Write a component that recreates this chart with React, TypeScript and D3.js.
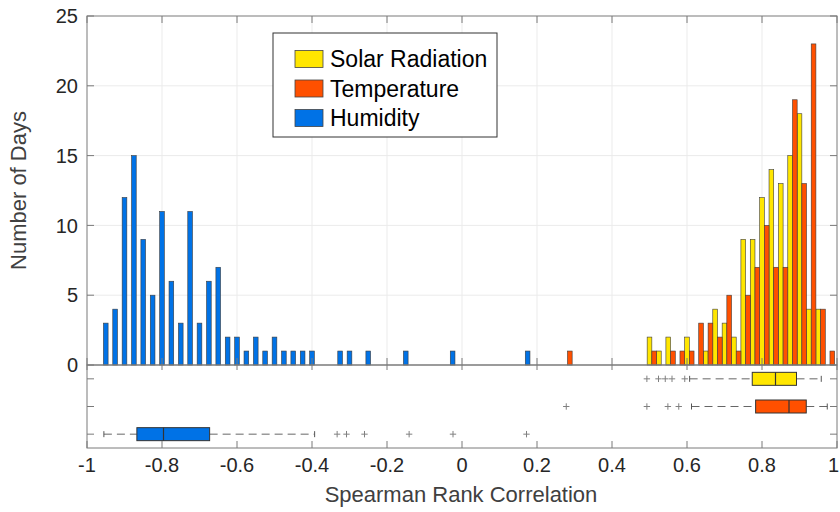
import { useRef, useEffect } from "react";
import * as d3 from "d3";

// histogram bins (bar centres) and counts
const humidityBins = [
  -0.95, -0.925, -0.9, -0.875, -0.85, -0.825, -0.8, -0.775, -0.75, -0.725, -0.7, -0.675,
  -0.65, -0.625, -0.6, -0.575, -0.55, -0.525, -0.5, -0.475, -0.45, -0.425, -0.4,
  -0.325, -0.3, -0.25, -0.15, -0.025, 0.175,
];
const humidityCounts = [
  3, 4, 12, 15, 9, 5, 11, 6, 3, 11, 3, 6, 7, 2, 2, 1, 2, 1, 2, 1, 1, 1, 1,
  1, 1, 1, 1, 1, 1,
];

const solarBins = [0.5, 0.525, 0.55, 0.6, 0.65, 0.675, 0.7, 0.725, 0.75, 0.775, 0.8, 0.825, 0.85, 0.875, 0.9, 0.925, 0.95];
const solarCounts = [2, 1, 2, 2, 1, 4, 3, 2, 9, 9, 12, 14, 13, 15, 18, 4, 4];

const tempBins = [
  0.2875, 0.5125, 0.5625, 0.5875, 0.6125, 0.6375, 0.6625, 0.6875, 0.7125, 0.7375,
  0.7625, 0.7875, 0.8125, 0.8375, 0.8625, 0.8875, 0.9125, 0.9375, 0.9625, 0.9875,
];
const tempCounts = [1, 1, 1, 1, 1, 3, 3, 2, 5, 1, 5, 7, 10, 7, 7, 19, 13, 23, 4, 1];

// box plot summaries: [lower whisker, q1, median, q3, upper whisker]
const boxNames = ["Solar Radiation", "Temperature", "Humidity"];
const boxStats = [
  [0.607, 0.774, 0.836, 0.892, 0.958],
  [0.612, 0.783, 0.872, 0.918, 0.974],
  [-0.955, -0.867, -0.796, -0.673, -0.393],
];
const boxOutliers = [
  [0.493, 0.524, 0.542, 0.56, 0.594],
  [0.278, 0.493, 0.549, 0.578],
  [-0.333, -0.308, -0.26, -0.141, -0.024, 0.172],
];

const colors = ["#ffe600", "#ff5000", "#0072e6"];
const xTicks = [-1, -0.8, -0.6, -0.4, -0.2, 0, 0.2, 0.4, 0.6, 0.8, 1];
const yTicks = [0, 5, 10, 15, 20, 25];

const W = 840;
const H = 512;
const X0 = 87;
const X1 = 837;
const HIST_TOP = 16;
const HIST_BOT = 365;
const BOX_BOT = 448;
const TICK = 7;
const FONT = "'Liberation Sans', Arial, Helvetica, sans-serif";
const TXT = "#262626";
const AX = "#7a7a7a";

export default function App() {
  const svgRef = useRef<SVGSVGElement>(null);

  useEffect(() => {
    document.body.style.margin = "0";
    if (!svgRef.current) return;
    const svg = d3.select(svgRef.current);
    svg.selectAll("*").remove();

    const x = d3.scaleLinear().domain([-1, 1]).range([X0, X1]);
    const y = d3.scaleLinear().domain([0, 25]).range([HIST_BOT, HIST_TOP]);
    const yb = d3.scaleLinear().domain([0.5, 3.5]).range([HIST_BOT, BOX_BOT]);
    const bw = x(0.0125) - x(0);

    svg.append("rect").attr("width", W).attr("height", H).attr("fill", "#fff");

    // grid
    const grid = svg.append("g").attr("stroke", "#ebebeb").attr("stroke-width", 1);
    grid.selectAll(".gx").data(xTicks.slice(1, -1)).join("line")
      .attr("x1", d => x(d)).attr("x2", d => x(d))
      .attr("y1", HIST_TOP).attr("y2", HIST_BOT);
    grid.selectAll(".gy").data(yTicks.slice(1, -1)).join("line")
      .attr("x1", X0).attr("x2", X1)
      .attr("y1", d => y(d)).attr("y2", d => y(d));

    // histogram bars
    const series = [
      { bins: humidityBins, counts: humidityCounts, color: colors[2] },
      { bins: solarBins, counts: solarCounts, color: colors[0] },
      { bins: tempBins, counts: tempCounts, color: colors[1] },
    ];
    series.forEach(s => {
      svg.append("g").selectAll("rect")
        .data(s.bins.map((b, i) => ({ b, c: s.counts[i] })))
        .join("rect")
        .attr("x", d => x(d.b) - bw / 2)
        .attr("width", bw)
        .attr("y", d => y(d.c))
        .attr("height", d => y(0) - y(d.c))
        .attr("fill", s.color)
        .attr("stroke", "#3c3c3c")
        .attr("stroke-width", 0.6);
    });

    // box plots
    const bp = svg.append("g");
    boxStats.forEach((st, i) => {
      const cy = yb(i + 1);
      const [lo, q1, med, q3, hi] = st;
      const g = bp.append("g");
      g.selectAll(".wh").data([[lo, q1], [q3, hi]]).join("line")
        .attr("x1", d => x(d[0])).attr("x2", d => x(d[1]))
        .attr("y1", cy).attr("y2", cy)
        .attr("stroke", "#666").attr("stroke-width", 1)
        .attr("stroke-dasharray", "8,5");
      g.selectAll(".cap").data([lo, hi]).join("line")
        .attr("x1", d => x(d)).attr("x2", d => x(d))
        .attr("y1", cy - 3).attr("y2", cy + 3)
        .attr("stroke", "#555").attr("stroke-width", 1);
      g.append("rect")
        .attr("x", x(q1)).attr("width", x(q3) - x(q1))
        .attr("y", cy - 6.5).attr("height", 13)
        .attr("fill", colors[i]).attr("stroke", "#333").attr("stroke-width", 1);
      g.append("line")
        .attr("x1", x(med)).attr("x2", x(med))
        .attr("y1", cy - 6.5).attr("y2", cy + 6.5)
        .attr("stroke", "#333").attr("stroke-width", 1.2);
      const plus = g.selectAll(".out").data(boxOutliers[i]).join("g")
        .attr("transform", d => `translate(${x(d)},${cy})`)
        .attr("stroke", "#808080").attr("stroke-width", 1);
      plus.append("line").attr("x1", -3.2).attr("x2", 3.2);
      plus.append("line").attr("y1", -3.2).attr("y2", 3.2);
    });

    // axes frames and ticks
    const ax = svg.append("g").attr("stroke", AX).attr("stroke-width", 1).attr("fill", "none");
    ax.append("rect").attr("x", X0).attr("y", HIST_TOP).attr("width", X1 - X0).attr("height", HIST_BOT - HIST_TOP);
    ax.append("rect").attr("x", X0).attr("y", HIST_BOT).attr("width", X1 - X0).attr("height", BOX_BOT - HIST_BOT);
    xTicks.forEach(t => {
      const px = x(t);
      [
        [HIST_TOP, HIST_TOP + TICK],
        [HIST_BOT, HIST_BOT - TICK],
        [HIST_BOT, HIST_BOT + 5],
        [BOX_BOT, BOX_BOT - TICK],
      ].forEach(([a, b]) => ax.append("line").attr("x1", px).attr("x2", px).attr("y1", a).attr("y2", b));
    });
    yTicks.forEach(t => {
      ax.append("line").attr("x1", X0).attr("x2", X0 + TICK).attr("y1", y(t)).attr("y2", y(t));
      ax.append("line").attr("x1", X1).attr("x2", X1 - TICK).attr("y1", y(t)).attr("y2", y(t));
    });
    [1, 2, 3].forEach(r => {
      ax.append("line").attr("x1", X0).attr("x2", X0 + TICK).attr("y1", yb(r)).attr("y2", yb(r));
      ax.append("line").attr("x1", X1).attr("x2", X1 - TICK).attr("y1", yb(r)).attr("y2", yb(r));
    });

    // tick labels (the last one is pulled in so it stays on the page)
    const txt = svg.append("g").attr("font-family", FONT).attr("fill", TXT);
    txt.selectAll(".xl").data(xTicks).join("text")
      .attr("x", d => (d === 1 ? W - 1 : x(d))).attr("y", 472)
      .attr("text-anchor", d => (d === 1 ? "end" : "middle")).attr("font-size", 20)
      .text(d => String(d));
    txt.selectAll(".yl").data(yTicks).join("text")
      .attr("x", 78).attr("y", d => y(d)).attr("dy", "0.36em")
      .attr("text-anchor", "end").attr("font-size", 20)
      .text(d => String(d));

    txt.append("text")
      .attr("x", (X0 + X1) / 2 - 1).attr("y", 502)
      .attr("text-anchor", "middle").attr("font-size", 22).attr("fill", "#404040")
      .text("Spearman Rank Correlation");
    txt.append("text")
      .attr("transform", `translate(26,${(HIST_TOP + HIST_BOT) / 2}) rotate(-90)`)
      .attr("text-anchor", "middle").attr("font-size", 22).attr("fill", "#404040")
      .text("Number of Days");

    // legend
    const lg = svg.append("g").attr("font-family", FONT);
    lg.append("rect")
      .attr("x", 273).attr("y", 33).attr("width", 224).attr("height", 104)
      .attr("fill", "#fff").attr("stroke", "#333").attr("stroke-width", 1);
    boxNames.forEach((n, i) => {
      const cy = 59 + i * 29.5;
      lg.append("rect")
        .attr("x", 295).attr("y", cy - 8.5).attr("width", 28).attr("height", 17)
        .attr("fill", colors[i]).attr("stroke", "#444").attr("stroke-width", 0.8);
      lg.append("text")
        .attr("x", 330).attr("y", cy).attr("dy", "0.36em")
        .attr("font-size", 23).attr("fill", "#000")
        .text(n);
    });
  }, []);

  return (
    <svg ref={svgRef} width={W} height={H} style={{ display: "block" }} />
  );
}
